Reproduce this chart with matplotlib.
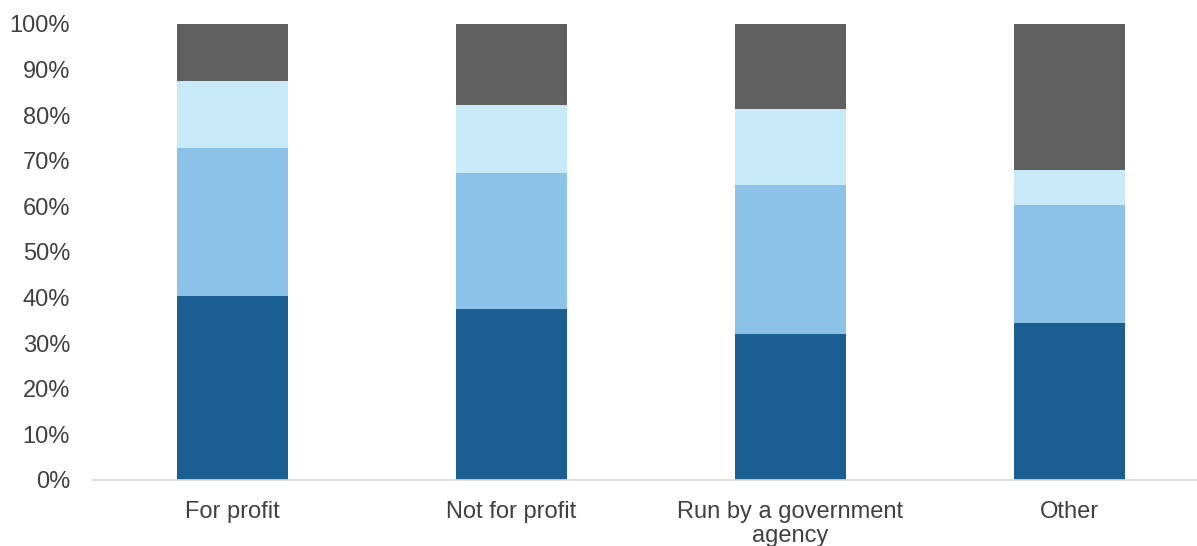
import matplotlib
matplotlib.use("Agg")
import matplotlib.pyplot as plt
import numpy as np

plt.rcParams['font.family'] = ['Liberation Sans', 'DejaVu Sans']

categories = ["For profit", "Not for profit", "Run by a government\nagency", "Other"]
series_1 = [40.3, 37.6, 32.1, 34.4]
series_2 = [32.5, 29.7, 32.7, 26.0]
series_3 = [14.8, 14.9, 16.6, 7.5]
series_4 = [12.4, 17.8, 18.6, 32.1]
colors = ["#1b5e91", "#8cc2e8", "#c7e9f8", "#5f5f5f"]

fig = plt.figure(figsize=(11.97, 5.46), dpi=100)
ax = fig.add_axes([93 / 1197, 66 / 546, (1197 - 93) / 1197, (480 - 24) / 546])

x = np.arange(len(categories))
bottom = np.zeros(len(categories))
for vals, c in zip([series_1, series_2, series_3, series_4], colors):
    ax.bar(x, vals, width=0.4, bottom=bottom, color=c, edgecolor="none", zorder=2)
    bottom += np.array(vals)

ax.set_ylim(0, 100)
ax.set_xlim(-0.5, 3.457)
ax.set_yticks(np.arange(0, 101, 10))
ax.set_yticklabels([f"{v}%" for v in range(0, 101, 10)])
ax.set_xticks(x)
ax.set_xticklabels(categories, linespacing=1.15)
ax.tick_params(axis="both", length=0, labelsize=17, colors="#404040")
ax.tick_params(axis="y", pad=16.5)
ax.tick_params(axis="x", pad=15)
for s in ["top", "right", "left"]:
    ax.spines[s].set_visible(False)
ax.spines["bottom"].set_color("#d9d9d9")
ax.spines["bottom"].set_linewidth(1.2)
ax.spines["bottom"].set_zorder(3)

fig.savefig("out.png", dpi=100)
